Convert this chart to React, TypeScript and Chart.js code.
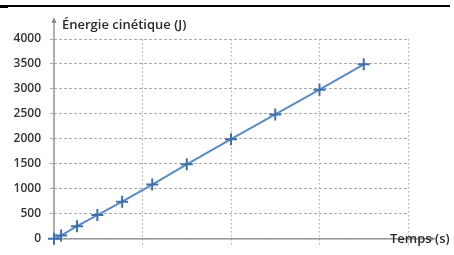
import React, { useEffect, useRef } from "react";
import { Chart, registerables } from "chart.js";

Chart.register(...registerables);

const times = [0, 0.08, 0.26, 0.49, 0.77, 1.11, 1.5, 2.0, 2.5, 3.0, 3.5];
const energies = [0, 65, 253, 476, 743, 1085, 1491, 1994, 2490, 2985, 3493];
const yTickLabels = ["0", "500", "1000", "1500", "2000", "2500", "3000", "3500", "4000"];
const yTitle = "Énergie cinétique (J)";
const xTitle = "Temps (s)";

const AXIS = "#8a8a8a";
const GRID = "#ababab";

const axesPlugin = {
  id: "arrowAxes",
  beforeDatasetsDraw(chart: any) {
    const { ctx, scales } = chart;
    const x0 = scales.x.getPixelForValue(0);
    const y0 = scales.y.getPixelForValue(0);
    const yTop = scales.y.getPixelForValue(4000) - 20;
    const xEnd = scales.x.getPixelForValue(4) + 26;
    ctx.save();
    ctx.strokeStyle = AXIS;
    ctx.fillStyle = AXIS;
    ctx.lineWidth = 1.3;
    ctx.beginPath();
    ctx.moveTo(x0, y0);
    ctx.lineTo(x0, yTop + 3);
    ctx.moveTo(x0, y0);
    ctx.lineTo(xEnd - 3, y0);
    ctx.stroke();
    ctx.beginPath();
    ctx.moveTo(x0, yTop - 2);
    ctx.lineTo(x0 - 2.5, yTop + 4);
    ctx.lineTo(x0 + 2.5, yTop + 4);
    ctx.closePath();
    ctx.fill();
    ctx.beginPath();
    ctx.moveTo(xEnd + 2, y0);
    ctx.lineTo(xEnd - 4, y0 - 2.5);
    ctx.lineTo(xEnd - 4, y0 + 2.5);
    ctx.closePath();
    ctx.fill();
    ctx.restore();
  },
};

export default function App() {
  const ref = useRef<HTMLCanvasElement | null>(null);
  useEffect(() => {
    if (!ref.current) return;
    const chart = new Chart(ref.current, {
      type: "scatter",
      data: {
        datasets: [
          {
            data: times.map((t, i) => ({ x: t, y: energies[i] })),
            showLine: true,
            borderColor: "#5b8bc0",
            borderWidth: 2,
            pointStyle: "cross",
            pointRadius: 6,
            pointBorderWidth: 2,
            pointBorderColor: "#3f6fa8",
            pointBackgroundColor: "#3f6fa8",
            clip: false as any,
          },
        ],
      },
      options: {
        responsive: false,
        animation: false,
        layout: { padding: { top: 39, right: 46, left: 0, bottom: 0 } },
        plugins: { legend: { display: false }, tooltip: { enabled: false } },
        scales: {
          x: {
            type: "linear",
            min: 0,
            max: 4,
            ticks: { display: false, stepSize: 1 },
            grid: { color: GRID, lineWidth: 1, drawTicks: true, tickLength: 6, tickBorderDash: [1.5, 2.5] },
            border: { display: false, dash: [1.5, 2.5] },
            afterFit(scale: any) {
              scale.height = 6;
            },
          },
          y: {
            type: "linear",
            min: 0,
            max: 4000,
            ticks: {
              stepSize: 500,
              padding: 9,
              color: "#333",
              font: { family: "'Open Sans'", size: 12, weight: 600 as any },
              callback: (v: any) => yTickLabels[Math.round(Number(v) / 500)],
            },
            grid: { color: GRID, lineWidth: 1, drawTicks: true, tickLength: 4, tickBorderDash: [3, 2] },
            border: { display: false, dash: [3, 2] },
            afterFit(scale: any) {
              scale.width = 54;
            },
          },
        },
      },
      plugins: [axesPlugin],
    });
    return () => chart.destroy();
  }, []);

  const labelStyle: React.CSSProperties = {
    position: "absolute",
    fontFamily: "'Open Sans'",
    fontSize: 13,
    fontWeight: 600,
    lineHeight: "18px",
    color: "#2a2a2a",
    whiteSpace: "nowrap",
  };

  return (
    <div style={{ position: "absolute", left: 0, top: 0, width: 454, height: 255, background: "#fff", overflow: "hidden" }}>
      <div style={{ position: "absolute", left: 0, top: 5, width: 450, height: 2, background: "#000" }} />
      <div style={{ position: "absolute", left: 0, top: 5, width: 8, height: 3, background: "#000" }} />
      <canvas ref={ref} width={454} height={255} style={{ position: "absolute", left: 0, top: 0 }} />
      <span style={{ ...labelStyle, left: 62, top: 15 }}>{yTitle}</span>
      <span style={{ ...labelStyle, left: 390, top: 229 }}>{xTitle}</span>
    </div>
  );
}
